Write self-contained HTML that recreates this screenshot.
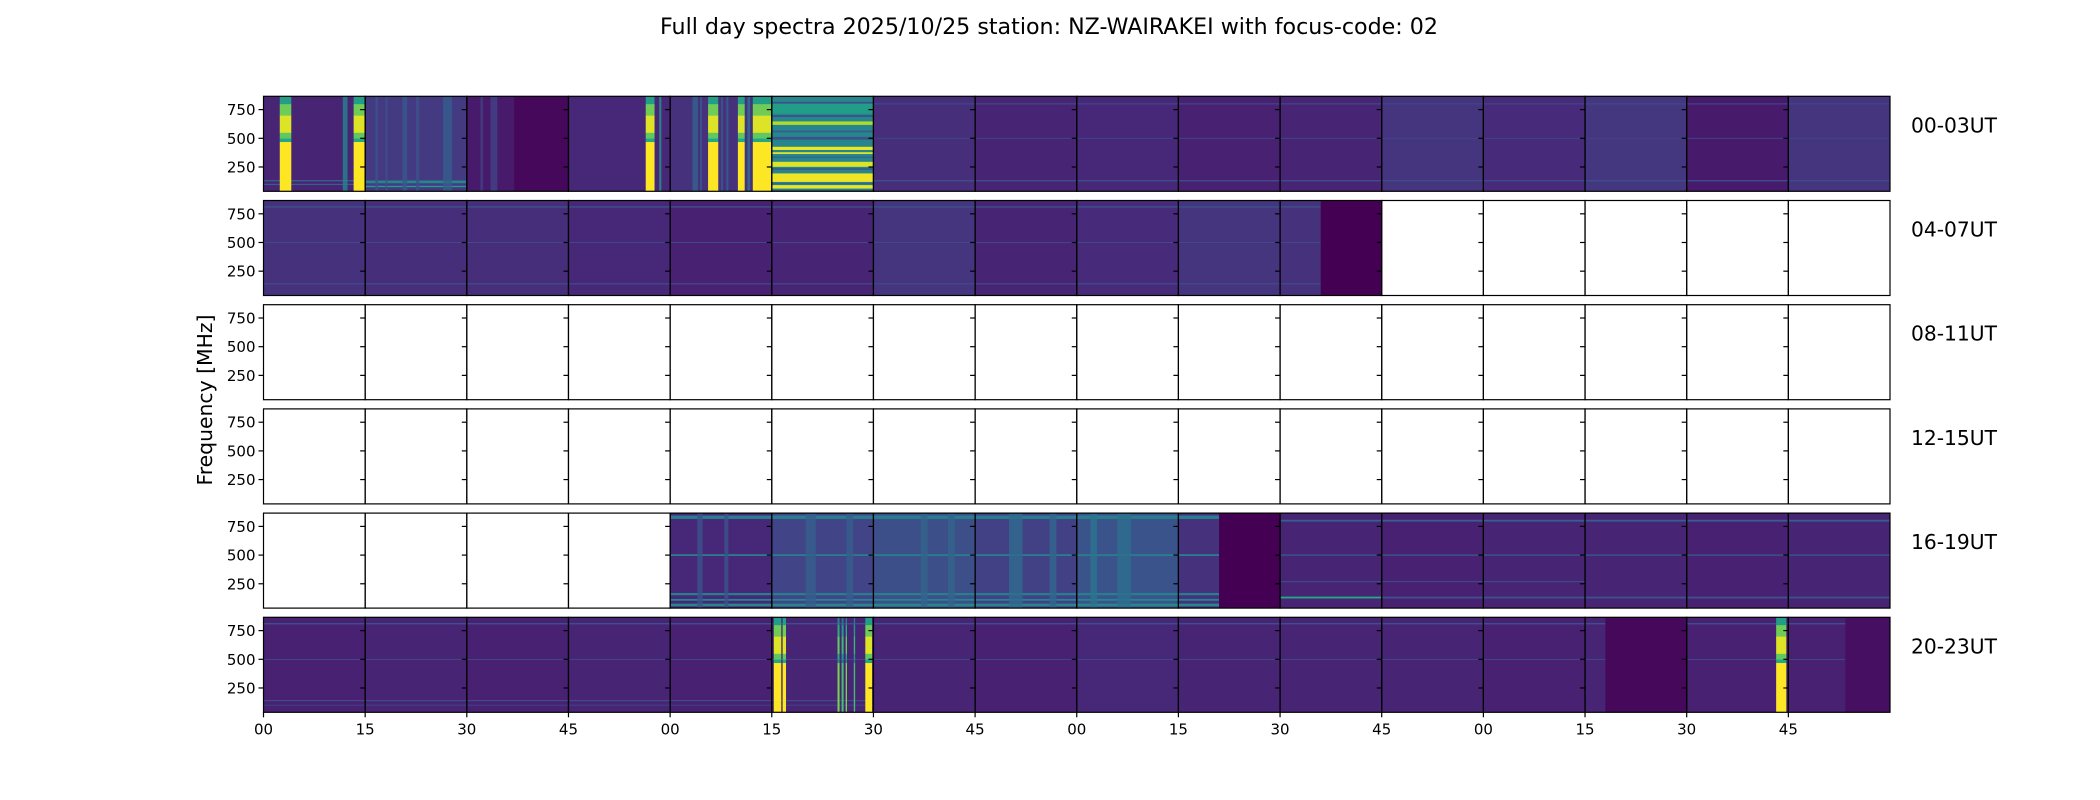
<!DOCTYPE html>
<html><head><meta charset="utf-8"><style>
html,body{margin:0;padding:0;background:#fff;}
svg{display:block;font-family:"DejaVu Sans","Liberation Sans",sans-serif;}
</style></head><body>
<svg id="fig" width="2100" height="800" viewBox="0 0 2100 800" xmlns="http://www.w3.org/2000/svg">
<rect x="0" y="0" width="2100" height="800" fill="#fff"/>
<text x="1049" y="34" text-anchor="middle" font-size="22" textLength="778" lengthAdjust="spacingAndGlyphs">Full day spectra 2025/10/25 station: NZ-WAIRAKEI with focus-code: 02</text>
<text transform="translate(212,400) rotate(-90)" text-anchor="middle" font-size="20" textLength="171" lengthAdjust="spacingAndGlyphs">Frequency [MHz]</text>
<g id="plots"></g>
</svg>
<script>
// ---- data ----
const rowLabels = ["00-03UT","04-07UT","08-11UT","12-15UT","16-19UT","20-23UT"];
const xTickLabels = ["00","15","30","45","00","15","30","45","00","15","30","45","00","15","30","45"];
const yTicks = [250,500,750];
const N = null;
// base intensity per 15-min cell (null = no data)
const base0 = [0.1,0.17,0.07,0.11,0.14,0.45,0.13,0.1,0.11,0.09,0.1,0.15,0.12,0.16,0.07,0.15];
const base1 = [0.14,0.13,0.13,0.11,0.09,0.1,0.15,0.1,0.12,0.15,0.14,N,N,N,N,N];
const base2 = [N,N,N,N,N,N,N,N,N,N,N,N,N,N,N,N];
const base3 = [N,N,N,N,N,N,N,N,N,N,N,N,N,N,N,N];
const base4 = [N,N,N,N,0.11,0.2,0.24,0.19,0.26,0.14,0.1,0.09,0.1,0.1,0.09,0.1];
const base5 = [0.09,0.1,0.09,0.1,0.09,0.1,0.1,0.09,0.11,0.1,0.1,0.1,0.09,0.1,0.09,0.09];
const baseRows = [base0,base1,base2,base3,base4,base5];
// horizontal bands: [row, startMin, endMin, freqMHz, halfWidthMHz, value]
const hLines = [
 [0,0,15,130,4,0.4],[0,0,15,100,3,0.35],[0,15,30,120,12,0.45],[0,15,30,80,6,0.55],
 [0,75,90,760,45,0.55],[0,75,90,632,15,0.88],[0,75,90,412,14,0.97],[0,75,90,371,8,0.95],[0,75,90,273,22,0.95],[0,75,90,157,37,0.98],[0,75,90,77,15,0.97],
 [0,75,90,810,8,0.25],[0,75,90,694,8,0.25],[0,75,90,560,8,0.3],[0,75,90,500,12,0.25],[0,75,90,335,5,0.3],[0,75,90,232,8,0.3],[0,75,90,105,4,0.3],[0,75,90,45,5,0.3],
 [0,90,240,800,5,0.22],[0,90,240,500,4,0.2],[0,90,240,130,6,0.24],
 [1,0,156,810,6,0.25],[1,0,156,500,4,0.22],[1,0,156,140,6,0.22],
 [4,60,141,830,15,0.42],[4,60,141,500,8,0.42],[4,60,141,160,10,0.42],[4,60,141,110,8,0.45],[4,60,141,65,12,0.45],
 [4,150,240,800,8,0.3],[4,150,240,500,5,0.32],[4,150,165,130,8,0.6],[4,165,240,130,8,0.25],[4,150,195,270,3,0.25],
 [5,0,240,810,6,0.25],[5,0,240,500,3,0.22],[5,0,90,140,5,0.24],[5,0,90,100,4,0.2]
];
// faint vertical stripes: [row, startMin, endMin, value]
const vStripes = [
 [0,11.7,12.4,0.45],[0,58.4,58.7,0.55],[0,63.3,64.1,0.32],[0,64.4,64.7,0.28],[0,67.5,67.8,0.28],[0,68.3,68.6,0.32],[0,71.4,71.8,0.38],
 [0,16.5,16.9,0.25],[0,18,18.3,0.25],[0,20.5,21.2,0.28],[0,22.5,23,0.25],[0,26.5,27.8,0.3],[0,32,32.4,0.18],[0,33.5,34.5,0.2],
 [4,64,64.8,0.26],[4,68,68.6,0.26],[4,80,81.5,0.3],[4,86,87,0.3],[4,97,98,0.32],[4,101,102,0.32],[4,110,112,0.35],[4,116,117,0.33],[4,122,123,0.38],[4,126,128,0.36]
];
// broadband bursts: [row, startMin, endMin, scale]
const bursts = [
 [0,2.4,4.1,1],[0,13.3,15,1],[0,56.4,57.7,1],[0,65.6,67.1,1],[0,70,71,1],[0,72.2,75,1],
 [5,75.3,76.4,1],[5,76.6,77.1,1],[5,84.7,85,0.8],[5,85.3,85.6,0.7],[5,85.9,86.1,0.8],[5,87.1,87.3,0.7],[5,88.8,89.8,1],[5,223.2,224.7,1]
];
// burst frequency profile: [fromMHz, toMHz, value]
const burstProfile = [[38,470,1.0],[470,500,0.6],[500,550,0.75],[550,700,0.95],[700,800,0.78],[800,866,0.55]];
// data gaps (very low level): [row, startMin, endMin, value]
const gaps = [[0,37,45,0.02],[1,156,165,0.0],[4,141,150,0.0],[5,198,210,0.02],[5,233.4,240,0.04]];

// ---- layout ----
const X0=263.5, X1=1890, ROW_TOP0=96.3, ROW_STEP=104.2, ROW_H=95, FMIN=38, FMAX=866;
const CELL_W=(X1-X0)/16;
const xMin = m => X0 + m/15*CELL_W;
const yF = (r,f) => ROW_TOP0 + r*ROW_STEP + (FMAX-f)/(FMAX-FMIN)*ROW_H;
const vir=[[68,1,84],[72,36,117],[65,68,135],[53,95,141],[42,120,142],[33,145,140],[34,168,132],[68,191,112],[122,209,81],[189,223,38],[253,231,37]];
function viridis(t){t=Math.max(0,Math.min(1,t));const s=t*10,i=Math.min(9,Math.floor(s)),f=s-i;const a=vir[i],b=vir[i+1];return `rgb(${a.map((v,k)=>Math.round(v+(b[k]-v)*f)).join(',')})`;}
const NS="http://www.w3.org/2000/svg";
const plots=document.getElementById('plots');
function el(tag,attrs,parent){const e=document.createElementNS(NS,tag);for(const k in attrs)e.setAttribute(k,attrs[k]);parent.appendChild(e);return e;}
const defs=el('defs',{},plots);

for(let r=0;r<6;r++){
  const top=ROW_TOP0+r*ROW_STEP;
  const cp=el('clipPath',{id:'clip'+r},defs);
  el('rect',{x:X0,y:top,width:X1-X0,height:ROW_H},cp);
  const g=el('g',{'clip-path':'url(#clip'+r+')'},plots);
  
  
  const bases=baseRows[r];
  bases.forEach((v,c)=>{
    const rc=el('rect',{x:xMin(c*15),y:top,width:CELL_W,height:ROW_H,fill:v===null?'#fff':viridis(v)},g);
    
    
  });
  hLines.filter(h=>h[0]===r).forEach(h=>{
    const y1=yF(r,h[3]+h[4]), y2=yF(r,h[3]-h[4]);
    const ln=el('rect',{x:xMin(h[1]),y:y1,width:xMin(h[2])-xMin(h[1]),height:Math.max(1,y2-y1),fill:viridis(h[5])},g);
    
    
  });
  vStripes.filter(s=>s[0]===r).forEach(s=>{
    const st=el('rect',{x:xMin(s[1]),y:top,width:Math.max(1,xMin(s[2])-xMin(s[1])),height:ROW_H,fill:viridis(s[3]),opacity:0.8},g);
    
    
  });
  gaps.filter(s=>s[0]===r).forEach(s=>{
    const gp=el('rect',{x:xMin(s[1]),y:top,width:xMin(s[2])-xMin(s[1]),height:ROW_H,fill:viridis(s[3])},g);
    
    
  });
  bursts.filter(b=>b[0]===r).forEach(b=>{
    burstProfile.forEach(p=>{
      const y1=yF(r,p[1]), y2=yF(r,p[0]);
      const br=el('rect',{x:xMin(b[1]),y:y1,width:Math.max(1,xMin(b[2])-xMin(b[1])),height:y2-y1+0.3,fill:viridis(p[2]*b[3])},g);
      
      
    });
  });
  for(let c=0;c<16;c++){
    const x=xMin(c*15);
    const bd=el('rect',{x:x,y:top,width:CELL_W,height:ROW_H,fill:'none',stroke:'#000','stroke-width':1.2},plots);
    
    
    yTicks.forEach(f=>{
      const t=el('line',{x1:x-5,x2:x,y1:yF(r,f),y2:yF(r,f),stroke:'#000','stroke-width':1.2},plots);
      
      
    });
    if(r===5){
      const xt=el('line',{x1:x,x2:x,y1:top+ROW_H,y2:top+ROW_H+5,stroke:'#000','stroke-width':1.2},plots);
      
      
      const xl=el('text',{x:x,y:top+ROW_H+22,'text-anchor':'middle','font-size':15},plots);
      xl.textContent=xTickLabels[c];
      
      
    }
  }
  yTicks.forEach(f=>{
    const tl=el('text',{x:X0-8,y:yF(r,f)+5.5,'text-anchor':'end','font-size':15},plots);
    tl.textContent=String(f);
    
    
  });
  const rl=el('text',{x:1911,y:top+36,'font-size':20,textLength:86,lengthAdjust:'spacingAndGlyphs'},plots);
  rl.textContent=rowLabels[r];
  
  
}
</script>
</body></html>
